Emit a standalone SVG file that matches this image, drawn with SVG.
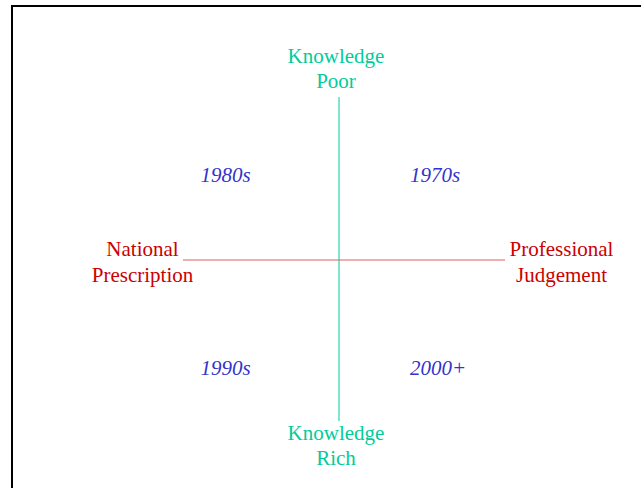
<svg xmlns="http://www.w3.org/2000/svg" width="641" height="488" viewBox="0 0 641 488">
<style>
text{font-family:"Liberation Serif","Times New Roman",serif;font-size:21px;text-anchor:middle}
.g{fill:#00cc99}
.r{fill:#cc0000}
.b{fill:#3333cc;font-style:italic}
</style>
<rect width="641" height="488" fill="#ffffff"/>
<path d="M12 488V6H641" fill="none" stroke="#000000" stroke-width="2"/>
<g id="connectors">
<line x1="339" y1="97" x2="339" y2="421" stroke="#00cc99" stroke-width="1"/>
<line x1="183" y1="260" x2="505" y2="260" stroke="#e06060" stroke-width="1"/>
</g>
<g id="knowledge-poor"><text class="g" x="336" y="63">Knowledge</text><text class="g" x="336" y="88">Poor</text></g>
<g id="knowledge-rich"><text class="g" x="336" y="440">Knowledge</text><text class="g" x="336" y="465">Rich</text></g>
<g id="national-prescription"><text class="r" x="142.5" y="256">National</text><text class="r" x="142.5" y="282">Prescription</text></g>
<g id="professional-judgement"><text class="r" x="561.5" y="256">Professional</text><text class="r" x="561.5" y="282">Judgement</text></g>
<g id="y1980s"><text class="b" x="225.5" y="182">1980s</text></g>
<g id="y1970s"><text class="b" x="435" y="182">1970s</text></g>
<g id="y1990s"><text class="b" x="225.5" y="375">1990s</text></g>
<g id="y2000"><text class="b" x="438" y="375">2000+</text></g>
</svg>
